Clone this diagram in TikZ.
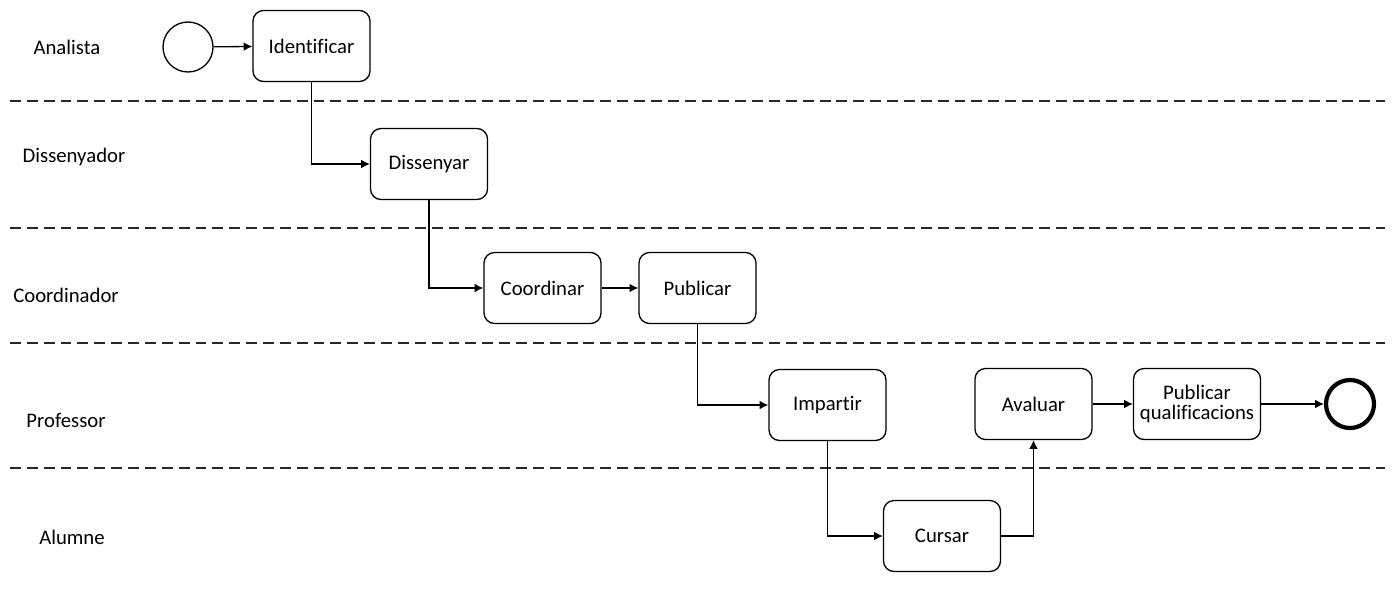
\documentclass[tikz,border=0pt]{standalone}
\usepackage{fontspec}
\setmainfont[Ligatures=NoCommon]{Carlito}
\usepackage{xcolor}
\definecolor{LineBlack}{RGB}{0,0,0}
\definecolor{LaneGray}{RGB}{40,40,40}
\usetikzlibrary{arrows.meta, positioning}
\tikzset{
  % Activity box
  task/.style={
    rectangle, rounded corners=6pt,
    draw=LineBlack, line width=0.75pt,
    fill=white, align=center,
    minimum width=117*0.02cm, minimum height=71*0.02cm,
    font=\fontsize{11.8}{13.5}\selectfont, inner sep=2pt
  },
  % Start / end events
  startev/.style={circle, draw=LineBlack, line width=0.75pt, minimum size=50*0.02cm, inner sep=0pt},
  endev/.style={circle, draw=LineBlack, line width=2.4pt, minimum size=48*0.02cm, inner sep=0pt},
  % Lane names
  lane/.style={font=\fontsize{11.8}{13.5}\selectfont, inner sep=0pt},
  % Lane separators
  sep/.style={LaneGray, line width=0.75pt, dash pattern=on 6.2pt off 3.4pt},
  % Sequence flow
  arr/.style={-{Latex[length=5pt,width=5pt]}, line width=0.75pt, LineBlack},
}

\begin{document}
\begin{tikzpicture}[x=0.02cm, y=-0.02cm]
  \useasboundingbox (0,0) rectangle (1395,596);

  %% ---- LANES ----
  \node[lane] (l_an) at (67,47)  {Analista};
  \node[lane] (l_di) at (74,157) {Dissenyador};
  \node[lane] (l_co) at (66,295) {Coordinador};
  \node[lane] (l_pr) at (66,420) {Professor};
  \node[lane] (l_al) at (72,537) {Alumne};

  \foreach \y in {101, 228, 343, 468}{
    \draw[sep] (10,\y) -- (1385,\y);
  }

  %% ---- EVENTS AND TASKS ----
  \node[startev] (start) at (188,47) {};
  \node[task] (ident) at (311.5,46)  {Identificar};
  \node[task] (diss)  at (429,164)   {Dissenyar};
  \node[task] (coord) at (542.5,288) {Coordinar};
  \node[task] (publ)  at (697.5,288) {Publicar};
  \node[task] (imp)   at (827.5,405) {Impartir};
  \node[task] (cur)   at (942,536)   {Cursar};
  \node[task] (aval)  at (1033.5,404) {Avaluar};
  \node[task, minimum width=127*0.02cm] (pubq) at (1197,404)
    {Publicar\\[-2pt]qualificacions};
  \node[endev] (fin) at (1350,404) {};

  %% ---- FLOWS ----
  \draw[arr] (start) -- (ident);
  \draw[arr] (ident.south) |- (diss.west);
  \draw[arr] (diss.south) |- (coord.west);
  \draw[arr] (coord) -- (publ);
  \draw[arr] (publ.south) |- (imp.west);
  \draw[arr] (imp.south) |- (cur.west);
  \draw[arr] (cur.east) -| (aval.south);
  \draw[arr] (aval) -- (pubq);
  \draw[arr] (pubq) -- (fin);

\end{tikzpicture}
\end{document}
